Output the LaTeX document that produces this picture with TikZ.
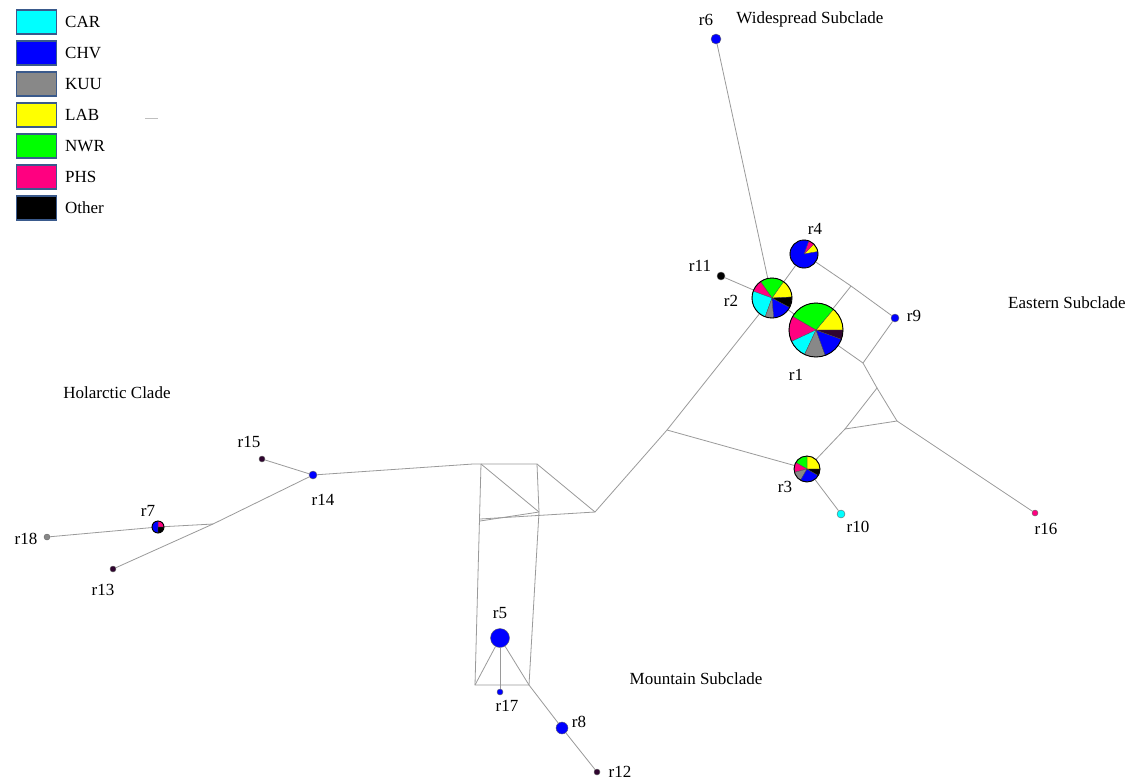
\documentclass[tikz,border=0pt]{standalone}
\usepackage{fontspec}
\setmainfont{Liberation Serif}
\definecolor{cCAR}{HTML}{00FFFF}
\definecolor{cCHV}{HTML}{0000FF}
\definecolor{cKUU}{HTML}{888888}
\definecolor{cLAB}{HTML}{FFFF00}
\definecolor{cNWR}{HTML}{00FF00}
\definecolor{cPHS}{HTML}{FF0080}
\definecolor{cOTH}{HTML}{000000}
\definecolor{cDRK}{HTML}{300530}
\definecolor{edgec}{HTML}{9A9A9A}
\definecolor{legbd}{HTML}{3A5A8C}
\newcommand{\mypie}[3]{%
  \foreach \a/\b/\c in {#3} {\fill[\c, draw=black!70, line width=0.3pt] (#1.center) -- ++(\a:#2pt) arc[start angle=\a, end angle=\b, radius=#2pt] -- cycle;}
  \draw[black, line width=0.9pt] (#1.center) circle[radius=#2pt];}
\tikzset{
  edge/.style={draw=edgec, line width=0.8pt},
  hap/.style={circle, inner sep=0pt, draw=black!60, line width=0.4pt},
  pienode/.style={circle, inner sep=0pt},
  lbl/.style={font=\fontsize{17}{20}\selectfont, inner sep=0pt},
  legsw/.style={draw=legbd, line width=1.6pt, minimum width=40pt, minimum height=24pt, inner sep=0pt},
  legtx/.style={font=\fontsize{17}{20}\selectfont, anchor=west, inner sep=0pt}
}
\begin{document}
\begin{tikzpicture}[x=1pt,y=-1pt]
\useasboundingbox (0,0) rectangle (1146,780);
\fill[white] (0,0) rectangle (1146,780);
% legend
\foreach \n/\t/\c [count=\i from 0] in {lcar/CAR/cCAR, lchv/CHV/cCHV, lkuu/KUU/cKUU, llab/LAB/cLAB, lnwr/NWR/cNWR, lphs/PHS/cPHS, loth/Other/cOTH}{
  \node[legsw, fill=\c] (\n) at (36.5,{22+31*\i}) {};
  \node[legtx] (\n t) at (65,{22+31*\i}) {\t};
}
\draw[black!25, line width=0.6pt] (145,118) -- (158,118);
% node positions
\node[pienode, minimum size=54pt] (r1) at (816,330) {};
\node[pienode, minimum size=40pt] (r2) at (772,298) {};
\node[pienode, minimum size=28pt] (r4) at (804,254) {};
\node[pienode, minimum size=26pt] (r3) at (807,469) {};
\node[pienode, minimum size=12pt] (r7) at (158,527) {};
\node[hap, fill=cCHV, minimum size=10pt] (r6) at (716,39) {};
\node[hap, fill=cOTH, minimum size=8pt] (r11) at (721,276) {};
\node[hap, fill=cCHV, minimum size=8pt] (r9) at (895,318) {};
\node[hap, fill=cCAR, minimum size=8pt] (r10) at (841,514) {};
\node[hap, fill=cPHS, minimum size=6pt] (r16) at (1035,513) {};
\node[hap, fill=cCHV, minimum size=8pt] (r14) at (313,475) {};
\node[hap, fill=cDRK, minimum size=6pt] (r15) at (262,459) {};
\node[hap, fill=cKUU, minimum size=6pt] (r18) at (47,537) {};
\node[hap, fill=cDRK, minimum size=6pt] (r13) at (113,569) {};
\node[hap, fill=cCHV, minimum size=19pt] (r5) at (500,638) {};
\node[hap, fill=cCHV, minimum size=6pt] (r17) at (500,692) {};
\node[hap, fill=cCHV, minimum size=12pt] (r8) at (562,728) {};
\node[hap, fill=cDRK, minimum size=6pt] (r12) at (597,772) {};
% junctions
\coordinate (j1) at (851,286);
\coordinate (j2) at (863,363);
\coordinate (j3) at (877,388);
\coordinate (j4) at (897,421);
\coordinate (j5) at (845,429);
\coordinate (j6) at (667,430);
\coordinate (j7) at (595,512);
\coordinate (b1) at (473,464);
\coordinate (b2) at (537,464);
\coordinate (b3) at (481,464);
\coordinate (b4) at (475,685);
\coordinate (b5) at (529,685);
\coordinate (b6) at (539,512);
\coordinate (b7) at (480,519);
\coordinate (b8) at (480,521);
\coordinate (j8) at (213,524);
% edges
\draw[edge] (r6) -- (r2);
\draw[edge] (r11) -- (r2);
\draw[edge] (r2) -- (r4);
\draw[edge] (r2) -- (r1);
\draw[edge] (r4) -- (j1) -- (r9);
\draw[edge] (j1) -- (r1);
\draw[edge] (r1) -- (j2);
\draw[edge] (r9) -- (j2);
\draw[edge] (j2) -- (j3);
\draw[edge] (j3) -- (j4) -- (j5) -- cycle;
\draw[edge] (j5) -- (r3);
\draw[edge] (j4) -- (r16);
\draw[edge] (r3) -- (r10);
\draw[edge] (r2) -- (j6) -- (j7);
\draw[edge] (j6) -- (r3);
\draw[edge] (r14) -- (b1) -- (b2) -- (j7);
\draw[edge] (b3) -- (b4) -- (b5);
\draw[edge] (b2) -- (b6) -- (b5);
\draw[edge] (b3) -- (b6);
\draw[edge] (b7) -- (j7);
\draw[edge] (b8) -- (b6);
\draw[edge] (r5) -- (b4);
\draw[edge] (r5) -- (b5);
\draw[edge] (r5) -- (r17);
\draw[edge] (b5) -- (r8) -- (r12);
\draw[edge] (r14) -- (r15);
\draw[edge] (r14) -- (j8) -- (r13);
\draw[edge] (j8) -- (r7) -- (r18);
% pies
\mypie{r1}{27}{0/50/cLAB, 50/150/cNWR, 150/205/cPHS, 205/245/cCAR, 245/290/cKUU, 290/340/cCHV, 340/360/cDRK}
\mypie{r2}{20}{3/55/cLAB, 55/125/cNWR, 125/160/cPHS, 160/250/cCAR, 250/275/cKUU, 275/332/cCHV, 332/363/cOTH}
\mypie{r4}{14}{10/45/cLAB, 45/70/cPHS, 70/370/cCHV}
\mypie{r3}{13}{0/90/cLAB, 90/150/cNWR, 150/195/cPHS, 195/240/cKUU, 240/330/cCHV, 330/360/cOTH}
\mypie{r7}{6}{0/90/cPHS, 90/270/cCHV, 270/360/cOTH}
% labels
\node[lbl] (t6) at (706,20) {r6};
\node[lbl] (t4) at (815,229) {r4};
\node[lbl] (t11) at (700,266) {r11};
\node[lbl] (t2) at (731,301) {r2};
\node[lbl] (t9) at (914,316) {r9};
\node[lbl] (t1) at (796,375) {r1};
\node[lbl] (t3) at (785,487) {r3};
\node[lbl] (t10) at (858,527) {r10};
\node[lbl] (t16) at (1046,529) {r16};
\node[lbl] (t15) at (249,442) {r15};
\node[lbl] (t14) at (323,500) {r14};
\node[lbl] (t7) at (148,511) {r7};
\node[lbl] (t18) at (26,539) {r18};
\node[lbl] (t13) at (103,590) {r13};
\node[lbl] (t5) at (500,613) {r5};
\node[lbl] (t17) at (507,706) {r17};
\node[lbl] (t8) at (579,722) {r8};
\node[lbl] (t12) at (620,772) {r12};
\node[lbl] (cw) at (810,19) {Widespread Subclade};
\node[lbl] (ce) at (1067,303) {Eastern Subclade};
\node[lbl] (ch) at (117,393) {Holarctic Clade};
\node[lbl] (cm) at (696,679) {Mountain Subclade};
\end{tikzpicture}
\end{document}
